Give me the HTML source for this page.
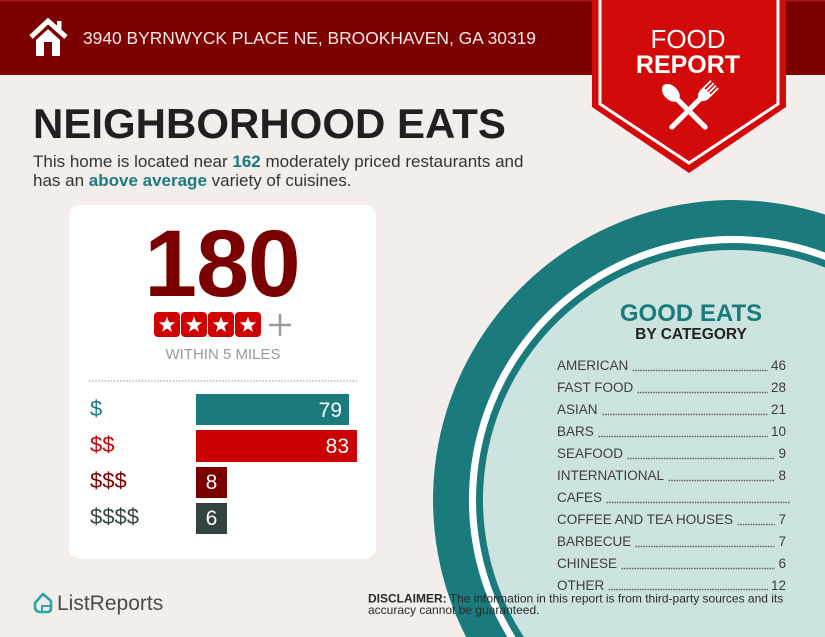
<!DOCTYPE html>
<html><head><meta charset="utf-8">
<style>
html,body{margin:0;padding:0;overflow:hidden;}
body{width:825px;height:637px;background:#f3edeb;position:relative;font-family:"Liberation Sans",sans-serif;}
svg{position:absolute;left:0;top:0;display:block;}
#list{position:absolute;left:557px;top:355.3px;width:229px;font-size:13.5px;color:#3d3d3d;}
#list .r{display:flex;height:21.95px;line-height:22px;white-space:nowrap;}
#list .l{flex:1;margin:0 3px 0 4px;background-image:radial-gradient(circle,#666 0.65px,transparent 1.05px);background-size:2.6px 3px;background-repeat:repeat-x;background-position:0 13.8px;}
</style></head><body>
<svg width="825" height="637" viewBox="0 0 825 637" xmlns="http://www.w3.org/2000/svg" font-family="Liberation Sans, sans-serif">
  <rect width="825" height="637" fill="#f3edeb"/>
  <!-- header -->
  <rect x="0" y="0" width="825" height="75" fill="#7d0000"/>
  <rect x="0" y="0" width="825" height="1.5" fill="#a51515"/>
  <!-- house icon -->
  <polyline points="31,37 48,21 66,37" fill="none" stroke="#fff" stroke-width="5" stroke-linejoin="miter"/>
  <rect x="57" y="21" width="4.5" height="10" fill="#fff"/>
  <polygon points="36,40 48,29 60,40 60,56 36,56" fill="#fff"/>
  <rect x="44" y="42" width="8" height="14" fill="#7d0000"/>
  <text x="83" y="44" font-size="17.4" fill="#f6e9e9">3940 BYRNWYCK PLACE NE, BROOKHAVEN, GA 30319</text>

  <!-- badge -->
  <polygon points="592,0 786,0 786,107 689,173 592,107" fill="#d20a0a"/>
  <polyline points="600,0 600,104 689,163 778,104 778,0" fill="none" stroke="#fff" stroke-width="3"/>
  <text x="688" y="48" font-size="26" fill="#fff" text-anchor="middle">FOOD</text>
  <text x="688" y="73" font-size="25" font-weight="bold" fill="#fff" text-anchor="middle">REPORT</text>
  <!-- spoon -->
  <g transform="translate(685,107) rotate(-45)" fill="#fff">
    <ellipse cx="0" cy="-20" rx="7" ry="10.5"/>
    <rect x="-2.6" y="-12" width="5.2" height="43" rx="2.6"/>
  </g>
  <!-- fork -->
  <g transform="translate(692,107) rotate(45)" fill="#fff">
    <rect x="-2.6" y="-14" width="5.2" height="45" rx="2.6"/>
    <path d="M-6,-22 L6,-22 L6,-18 Q6,-12 0,-10 Q-6,-12 -6,-18 Z"/>
    <rect x="-6" y="-32" width="1.8" height="11"/>
    <rect x="-2.4" y="-32" width="1.8" height="11"/>
    <rect x="0.8" y="-32" width="1.8" height="11"/>
    <rect x="4.2" y="-32" width="1.8" height="11"/>
  </g>

  <!-- title -->
  <text x="33" y="138" font-size="42" font-weight="bold" fill="#231f20">NEIGHBORHOOD EATS</text>
  <text x="33" y="167" font-size="17" fill="#333">This home is located near <tspan font-weight="bold" fill="#1b7b7c">162</tspan> moderately priced restaurants and</text>
  <text x="33" y="186" font-size="17" fill="#333">has an <tspan font-weight="bold" fill="#1b7b7c">above average</tspan> variety of cuisines.</text>

  <!-- circle (clipped to frame as paths) -->
  <path d="M825,214.5 A300,300 0 0 0 466.1,637 L825,637 Z" fill="#1b7b7c"/>
  <path d="M825,252.5 A264,264 0 0 0 507.3,637 L825,637 Z" fill="#ffffff"/>
  <path d="M825,260 A257,257 0 0 0 515.6,637 L825,637 Z" fill="#1b7b7c"/>
  <path d="M825,267.5 A250,250 0 0 0 523.9,637 L825,637 Z" fill="#cde3df"/>
  <text x="691" y="321" font-size="24" font-weight="bold" fill="#1b7b7c" text-anchor="middle">GOOD EATS</text>
  <text x="691" y="339" font-size="15.5" font-weight="bold" fill="#222" text-anchor="middle">BY CATEGORY</text>

  <!-- card -->
  <rect x="69" y="205" width="307" height="354" rx="12" fill="#ffffff"/>
  <text x="222" y="296" font-size="95" font-weight="bold" fill="#7a0000" text-anchor="middle" letter-spacing="-1">180</text>
  <g fill="#d10000">
    <rect x="154" y="312" width="26" height="25" rx="4"/>
    <rect x="181" y="312" width="26" height="25" rx="4"/>
    <rect x="208" y="312" width="26" height="25" rx="4"/>
    <rect x="235" y="312" width="26" height="25" rx="4"/>
  </g>
  <g fill="#fff">
    <path transform="translate(167,325)" d="M0,-8.5 L2.06,-2.84 L8.08,-2.63 L3.34,1.08 L4.99,6.88 L0,3.5 L-4.99,6.88 L-3.34,1.08 L-8.08,-2.63 L-2.06,-2.84 Z"/>
    <path transform="translate(194,325)" d="M0,-8.5 L2.06,-2.84 L8.08,-2.63 L3.34,1.08 L4.99,6.88 L0,3.5 L-4.99,6.88 L-3.34,1.08 L-8.08,-2.63 L-2.06,-2.84 Z"/>
    <path transform="translate(221,325)" d="M0,-8.5 L2.06,-2.84 L8.08,-2.63 L3.34,1.08 L4.99,6.88 L0,3.5 L-4.99,6.88 L-3.34,1.08 L-8.08,-2.63 L-2.06,-2.84 Z"/>
    <path transform="translate(248,325)" d="M0,-8.5 L2.06,-2.84 L8.08,-2.63 L3.34,1.08 L4.99,6.88 L0,3.5 L-4.99,6.88 L-3.34,1.08 L-8.08,-2.63 L-2.06,-2.84 Z"/>
  </g>
  <g stroke="#9a9a9a" stroke-width="2.5">
    <line x1="269" y1="325" x2="291" y2="325"/>
    <line x1="280" y1="314" x2="280" y2="336"/>
  </g>
  <text x="223" y="359" font-size="15" fill="#9a9a9a" text-anchor="middle">WITHIN 5 MILES</text>
  <line x1="89" y1="381" x2="357" y2="381" stroke="#a8a8a8" stroke-width="1.2" stroke-dasharray="1.5 1.6"/>

  <!-- bars -->
  <text x="90" y="416" font-size="22" fill="#1b7b7c">$</text>
  <text x="90" y="452" font-size="22" fill="#c80000">$$</text>
  <text x="90" y="488" font-size="22" fill="#7a0000">$$$</text>
  <text x="90" y="524" font-size="22" fill="#374343">$$$$</text>
  <rect x="196" y="394" width="153" height="31" fill="#1b7b7c"/>
  <rect x="196" y="430" width="161" height="32" fill="#cc0000"/>
  <rect x="196" y="467" width="31" height="31" fill="#7a0000"/>
  <rect x="196" y="503" width="31" height="31" fill="#354242"/>
  <g font-size="21" fill="#fff">
    <text x="342" y="417" text-anchor="end">79</text>
    <text x="349" y="453" text-anchor="end">83</text>
    <text x="211.5" y="489" text-anchor="middle">8</text>
    <text x="211.5" y="525" text-anchor="middle">6</text>
  </g>

  <!-- footer -->
  <path d="M35,603 L43,594 L51,601 L51,608 Q51,612 47,612 L41,612 Q35,612 35,607 Z" fill="none" stroke="#2aa6a6" stroke-width="2.6" stroke-linejoin="round"/>
  <path d="M42,612 L42,606 L51,606" fill="none" stroke="#2aa6a6" stroke-width="2"/>
  <text x="57" y="610" font-size="21" fill="#4a4a4a">ListReports</text>
  <text x="368" y="602.5" font-size="12" fill="#2a2a2a"><tspan font-weight="bold">DISCLAIMER:</tspan> The information in this report is from third-party sources and its</text>
  <text x="368" y="614" font-size="12" fill="#2a2a2a">accuracy cannot be guaranteed.</text>
</svg>
<div id="list">
  <div class="r"><span>AMERICAN</span><span class="l"></span><span>46</span></div>
  <div class="r"><span>FAST FOOD</span><span class="l"></span><span>28</span></div>
  <div class="r"><span>ASIAN</span><span class="l"></span><span>21</span></div>
  <div class="r"><span>BARS</span><span class="l"></span><span>10</span></div>
  <div class="r"><span>SEAFOOD</span><span class="l"></span><span>9</span></div>
  <div class="r"><span>INTERNATIONAL</span><span class="l"></span><span>8</span></div>
  <div class="r"><span>CAFES</span><span class="l" style="margin-right:-4px"></span></div>
  <div class="r"><span>COFFEE AND TEA HOUSES</span><span class="l"></span><span>7</span></div>
  <div class="r"><span>BARBECUE</span><span class="l"></span><span>7</span></div>
  <div class="r"><span>CHINESE</span><span class="l"></span><span>6</span></div>
  <div class="r"><span>OTHER</span><span class="l"></span><span>12</span></div>
</div>
</body></html>
